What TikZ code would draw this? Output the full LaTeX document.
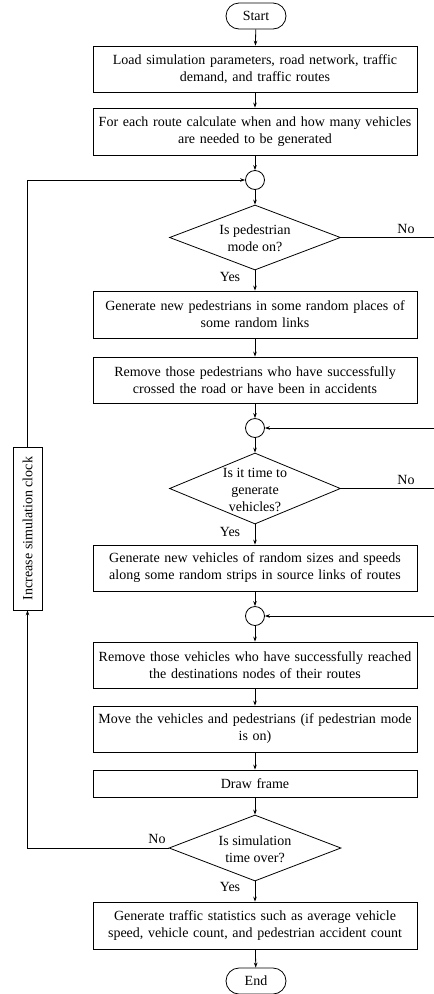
\documentclass[tikz,border=0pt]{standalone}
\usepackage{fontspec}
\setmainfont{Liberation Serif}
\usetikzlibrary{shapes.geometric,shapes.misc,arrows.meta}
\begin{document}
\begin{tikzpicture}[x=1pt,y=-1pt,
  every node/.style={font=\fontsize{14}{17}\selectfont},
  line/.style={line width=0.8pt},
  arr/.style={line width=0.8pt,-{Stealth[length=5pt,width=3.6pt]}},
  proc/.style={draw,line width=0.8pt,minimum width=324pt,text width=316pt,align=center,inner sep=0pt},
  term/.style={draw,line width=0.8pt,rounded rectangle,minimum width=60pt,minimum height=26pt,inner sep=0pt},
  junc/.style={draw,line width=0.8pt,circle,minimum size=19pt,inner sep=0pt},
  dec/.style={draw,line width=0.8pt,diamond,inner sep=0pt},
  dtext/.style={inner sep=0pt,align=center},
  lbl/.style={inner sep=0pt}]
\useasboundingbox (0,0) rectangle (434,994);
\node[term] (start) at (256,16) {Start};
\node[proc,minimum height=46pt] (b1) at (255,69) {Load simulation parameters, road network, traffic\\demand, and traffic routes};
\node[proc,minimum height=47pt] (b2) at (255,131.5) {For each route calculate when and how many vehicles\\are needed to be generated};
\node[junc] (c1) at (255,180) {};
\node[dec,minimum width=171pt,minimum height=65pt] (d1) at (255,237.5) {};
\node[dtext] (t1) at (255,238) {Is pedestrian\\mode on?};
\node[proc,minimum height=47pt] (b3) at (255,314.5) {Generate new pedestrians in some random places of\\some random links};
\node[proc,minimum height=46pt] (b4) at (255,380) {Remove those pedestrians who have successfully\\crossed the road or have been in accidents};
\node[junc] (c2) at (255,428) {};
\node[dec,minimum width=171pt,minimum height=71pt] (d2) at (255,488.5) {};
\node[dtext] (t2) at (255,490) {Is it time to\\generate\\vehicles?};
\node[proc,minimum height=46pt] (b5) at (255,568) {Generate new vehicles of random sizes and speeds\\along some random strips in source links of routes};
\node[junc] (c3) at (255,616) {};
\node[proc,minimum height=46pt] (b6) at (255,665) {Remove those vehicles who have successfully reached\\the destinations nodes of their routes};
\node[proc,minimum height=46pt] (b7) at (255,729) {Move the vehicles and pedestrians (if pedestrian mode\\is on)};
\node[proc,minimum height=27pt] (b8) at (255,783.5) {Draw frame};
\node[dec,minimum width=172pt,minimum height=66pt] (d3) at (255,848) {};
\node[dtext] (t3) at (255,849.5) {Is simulation\\time over?};
\node[proc,minimum height=47pt] (b9) at (255,925.5) {Generate traffic statistics such as average vehicle\\speed, vehicle count, and pedestrian accident count};
\node[term] (end) at (256,981) {End};
\node[draw,line width=0.8pt,rotate=90,minimum width=163pt,minimum height=29pt,inner sep=0pt] (clk) at (27.5,528.5) {Increase simulation clock};
% coordinates
\coordinate (r1) at (434,237.5);
\coordinate (r2) at (434,428);
\coordinate (r3) at (434,488.5);
\coordinate (r4) at (434,616);
\coordinate (l1) at (27.5,848);
\coordinate (l2) at (27.5,180);
% connectors
\draw[arr] (start) -- (b1);
\draw[arr] (b1) -- (b2);
\draw[arr] (b2) -- (c1);
\draw[arr] (c1) -- (d1);
\draw[arr] (d1) -- (b3);
\draw[arr] (b3) -- (b4);
\draw[arr] (b4) -- (c2);
\draw[arr] (c2) -- (d2);
\draw[arr] (d2) -- (b5);
\draw[arr] (b5) -- (c3);
\draw[arr] (c3) -- (b6);
\draw[arr] (b6) -- (b7);
\draw[arr] (b7) -- (b8);
\draw[arr] (b8) -- (d3);
\draw[arr] (d3) -- (b9);
\draw[arr] (b9) -- (end);
\draw[line] (d1.east) -- (r1);
\draw[line] (d2.east) -- (r3);
\draw[arr] (r2) -- (c2.east);
\draw[arr] (r4) -- (c3.east);
\draw[arr] (d3.west) -- (l1) -- (clk.west);
\draw[arr] (clk.east) -- (l2) -- (c1.west);
% labels
\node[lbl] (no1) at (406,229) {No};
\node[lbl] (yes1) at (230,277) {Yes};
\node[lbl] (no2) at (406,480) {No};
\node[lbl] (yes2) at (230,532) {Yes};
\node[lbl] (no3) at (157,839) {No};
\node[lbl] (yes3) at (230,887) {Yes};
\end{tikzpicture}
\end{document}
